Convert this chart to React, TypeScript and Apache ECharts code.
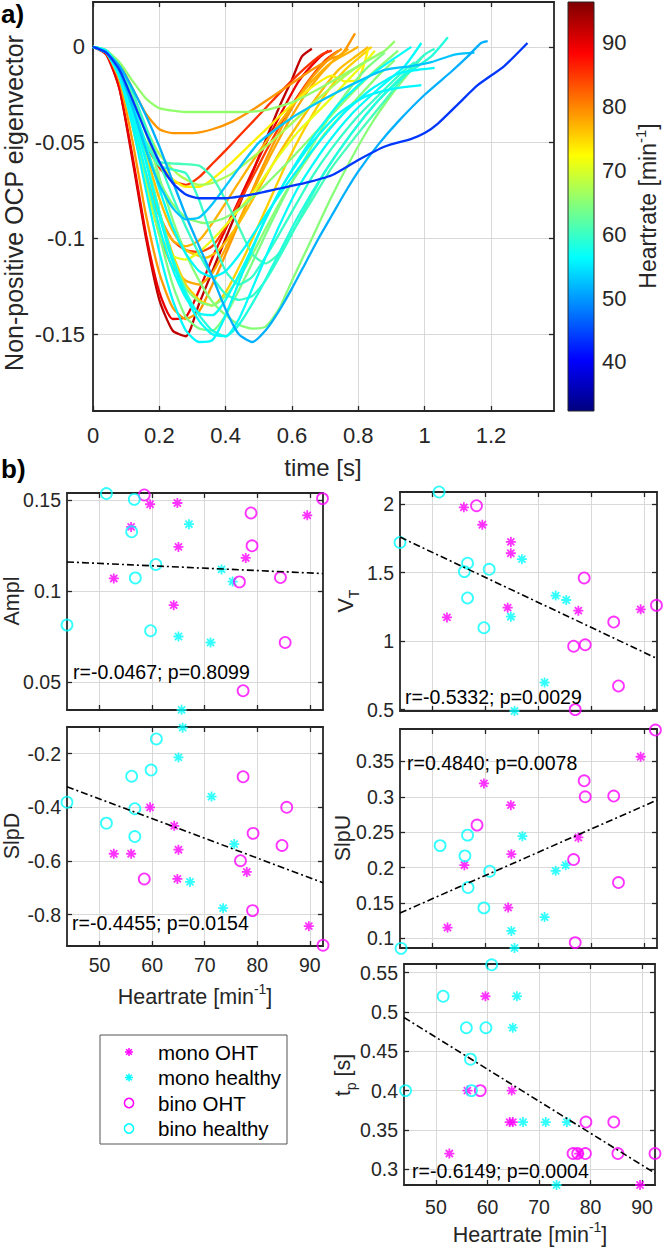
import React, { useEffect, useRef } from 'react';
import * as echarts from 'echarts';

// ---------------- data ----------------
const colorLimits = [32.3, 96.4];
const colorbarTicks = [40, 50, 60, 70, 80, 90];
const timeTicks = [0, 0.2, 0.4, 0.6, 0.8, 1, 1.2];
const eigenTicks = [-0.15, -0.1, -0.05, 0];
const heartrateTicks = [50, 60, 70, 80, 90];
const amplTicks = [0.05, 0.1, 0.15];
const vtTicks = [0.5, 1, 1.5, 2];
const slpdTicks = [-0.8, -0.6, -0.4, -0.2];
const slpuTicks = [0.1, 0.15, 0.2, 0.25, 0.3, 0.35];
const tpTicks = [0.3, 0.35, 0.4, 0.45, 0.5, 0.55];

const curveHeartrates = [92.4, 89.5, 85.3, 84.4, 79.0, 78.8, 77.8, 77.3, 76.6, 75.3, 73.2, 71.1, 67.0, 65.6, 65.0, 65.0, 64.8, 64.1, 60.7, 59.7, 59.6, 58.5, 56.8, 56.6, 56.0, 56.0, 52.7, 51.3, 43.8];

const curveTraces = [
  [[0,0],[0.04,-0.003],[0.08,-0.022],[0.12,-0.06],[0.16,-0.1],[0.2,-0.132],[0.24,-0.148],[0.28,-0.151],[0.32,-0.134],[0.36,-0.117],[0.4,-0.1],[0.44,-0.083],[0.48,-0.066],[0.52,-0.049],[0.56,-0.032],[0.6,-0.017],[0.63,-0.005],[0.66,-0.001]],
  [[0,0],[0.04,-0.004],[0.08,-0.022],[0.12,-0.058],[0.16,-0.098],[0.2,-0.128],[0.24,-0.142],[0.28,-0.141],[0.32,-0.127],[0.36,-0.11],[0.4,-0.095],[0.44,-0.08],[0.5,-0.058],[0.56,-0.037],[0.62,-0.018],[0.68,-0.006],[0.71,-0.002]],
  [[0,0],[0.04,-0.003],[0.08,-0.014],[0.12,-0.033],[0.16,-0.051],[0.2,-0.063],[0.24,-0.07],[0.28,-0.072],[0.32,-0.068],[0.36,-0.061],[0.4,-0.054],[0.46,-0.043],[0.52,-0.032],[0.58,-0.021],[0.64,-0.011],[0.69,-0.004],[0.72,-0.002]],
  [[0,0],[0.04,-0.003],[0.08,-0.016],[0.12,-0.04],[0.16,-0.068],[0.2,-0.088],[0.24,-0.101],[0.28,-0.106],[0.32,-0.107],[0.36,-0.104],[0.4,-0.094],[0.46,-0.075],[0.52,-0.055],[0.58,-0.036],[0.64,-0.02],[0.7,-0.007],[0.74,-0.002]],
  [[0,0],[0.04,-0.002],[0.08,-0.009],[0.12,-0.022],[0.16,-0.035],[0.2,-0.043],[0.24,-0.045],[0.3,-0.045],[0.36,-0.043],[0.42,-0.039],[0.48,-0.033],[0.54,-0.026],[0.6,-0.019],[0.66,-0.012],[0.72,-0.006],[0.75,-0.004],[0.79,0.007]],
  [[0,0],[0.04,-0.003],[0.08,-0.018],[0.12,-0.05],[0.16,-0.088],[0.2,-0.118],[0.24,-0.136],[0.28,-0.142],[0.32,-0.138],[0.36,-0.124],[0.42,-0.1],[0.48,-0.075],[0.54,-0.052],[0.6,-0.032],[0.66,-0.016],[0.72,-0.005],[0.75,-0.001]],
  [[0,0],[0.04,-0.003],[0.08,-0.016],[0.12,-0.042],[0.16,-0.072],[0.2,-0.098],[0.24,-0.115],[0.28,-0.122],[0.32,-0.124],[0.36,-0.118],[0.42,-0.098],[0.48,-0.076],[0.54,-0.055],[0.6,-0.036],[0.66,-0.02],[0.72,-0.008],[0.77,-0.001]],
  [[0,0],[0.04,-0.003],[0.08,-0.015],[0.12,-0.04],[0.16,-0.066],[0.2,-0.088],[0.24,-0.101],[0.28,-0.104],[0.32,-0.101],[0.36,-0.092],[0.42,-0.076],[0.48,-0.06],[0.54,-0.045],[0.6,-0.031],[0.66,-0.018],[0.72,-0.008],[0.78,-0.002],[0.8,0.0]],
  [[0,0],[0.04,-0.002],[0.08,-0.012],[0.12,-0.032],[0.16,-0.056],[0.2,-0.079],[0.24,-0.096],[0.28,-0.106],[0.34,-0.11],[0.38,-0.106],[0.44,-0.092],[0.5,-0.074],[0.56,-0.056],[0.62,-0.04],[0.68,-0.025],[0.74,-0.012],[0.8,-0.004],[0.83,0.0]],
  [[0,0],[0.04,-0.002],[0.08,-0.012],[0.12,-0.032],[0.16,-0.058],[0.2,-0.086],[0.24,-0.108],[0.28,-0.124],[0.32,-0.132],[0.36,-0.135],[0.4,-0.128],[0.46,-0.108],[0.52,-0.085],[0.58,-0.062],[0.64,-0.042],[0.7,-0.025],[0.76,-0.012],[0.82,-0.003],[0.84,0.0]],
  [[0,0],[0.04,-0.002],[0.08,-0.01],[0.12,-0.026],[0.16,-0.045],[0.2,-0.06],[0.24,-0.069],[0.28,-0.073],[0.32,-0.073],[0.36,-0.069],[0.42,-0.06],[0.48,-0.05],[0.54,-0.04],[0.6,-0.03],[0.66,-0.021],[0.72,-0.015],[0.76,-0.018],[0.8,-0.017],[0.83,-0.001]],
  [[0,0],[0.04,-0.003],[0.08,-0.016],[0.12,-0.042],[0.16,-0.072],[0.2,-0.097],[0.24,-0.109],[0.28,-0.111],[0.32,-0.107],[0.38,-0.097],[0.44,-0.085],[0.5,-0.072],[0.56,-0.057],[0.62,-0.044],[0.7,-0.03],[0.76,-0.019],[0.82,-0.008],[0.85,-0.002]],
  [[0,0],[0.04,-0.002],[0.08,-0.01],[0.12,-0.025],[0.16,-0.042],[0.2,-0.056],[0.26,-0.067],[0.32,-0.072],[0.36,-0.071],[0.42,-0.066],[0.5,-0.055],[0.58,-0.043],[0.66,-0.03],[0.74,-0.018],[0.8,-0.01],[0.85,-0.005],[0.87,-0.003]],
  [[0,0],[0.04,-0.002],[0.08,-0.008],[0.12,-0.018],[0.16,-0.027],[0.2,-0.032],[0.28,-0.034],[0.36,-0.034],[0.44,-0.034],[0.52,-0.033],[0.6,-0.029],[0.68,-0.022],[0.76,-0.014],[0.84,-0.006],[0.88,-0.002],[0.91,0.003]],
  [[0,0],[0.04,-0.002],[0.08,-0.011],[0.12,-0.03],[0.16,-0.052],[0.2,-0.07],[0.24,-0.082],[0.28,-0.089],[0.34,-0.092],[0.4,-0.089],[0.46,-0.082],[0.52,-0.072],[0.6,-0.058],[0.68,-0.043],[0.76,-0.028],[0.84,-0.014],[0.9,-0.005],[0.92,-0.002]],
  [[0,0],[0.04,-0.002],[0.08,-0.012],[0.12,-0.032],[0.16,-0.058],[0.2,-0.086],[0.24,-0.11],[0.28,-0.126],[0.32,-0.133],[0.36,-0.135],[0.4,-0.13],[0.46,-0.115],[0.52,-0.095],[0.58,-0.076],[0.64,-0.06],[0.7,-0.045],[0.78,-0.03],[0.86,-0.015],[0.91,-0.007]],
  [[0,0],[0.04,-0.002],[0.08,-0.01],[0.12,-0.025],[0.16,-0.045],[0.2,-0.068],[0.24,-0.09],[0.28,-0.108],[0.32,-0.122],[0.36,-0.133],[0.4,-0.14],[0.44,-0.145],[0.48,-0.147],[0.52,-0.146],[0.56,-0.137],[0.6,-0.122],[0.66,-0.1],[0.72,-0.078],[0.78,-0.058],[0.84,-0.04],[0.9,-0.025],[0.96,-0.012],[0.99,-0.006]],
  [[0,0],[0.04,-0.003],[0.08,-0.015],[0.12,-0.038],[0.16,-0.068],[0.2,-0.098],[0.24,-0.124],[0.28,-0.141],[0.32,-0.147],[0.36,-0.148],[0.4,-0.14],[0.46,-0.12],[0.52,-0.098],[0.58,-0.077],[0.64,-0.058],[0.7,-0.04],[0.76,-0.025],[0.82,-0.012],[0.88,-0.003]],
  [[0,0],[0.04,-0.002],[0.08,-0.012],[0.12,-0.032],[0.16,-0.05],[0.2,-0.06],[0.26,-0.061],[0.32,-0.062],[0.36,-0.068],[0.4,-0.08],[0.44,-0.094],[0.48,-0.108],[0.52,-0.113],[0.56,-0.108],[0.6,-0.097],[0.66,-0.08],[0.72,-0.063],[0.8,-0.045],[0.88,-0.028],[0.94,-0.015],[1.0,-0.004]],
  [[0,0],[0.04,-0.002],[0.08,-0.012],[0.12,-0.03],[0.16,-0.05],[0.2,-0.062],[0.24,-0.064],[0.28,-0.066],[0.32,-0.08],[0.36,-0.1],[0.4,-0.117],[0.44,-0.124],[0.48,-0.12],[0.54,-0.104],[0.6,-0.086],[0.66,-0.068],[0.72,-0.053],[0.8,-0.036],[0.88,-0.022],[0.94,-0.012],[0.97,-0.008]],
  [[0,0],[0.04,-0.002],[0.08,-0.01],[0.12,-0.024],[0.16,-0.042],[0.2,-0.06],[0.24,-0.078],[0.28,-0.094],[0.32,-0.108],[0.36,-0.12],[0.4,-0.129],[0.44,-0.132],[0.48,-0.13],[0.52,-0.122],[0.58,-0.104],[0.64,-0.084],[0.7,-0.065],[0.78,-0.045],[0.86,-0.028],[0.94,-0.014],[1.0,-0.004],[1.03,-0.001]],
  [[0,0],[0.04,-0.003],[0.08,-0.014],[0.12,-0.035],[0.16,-0.06],[0.2,-0.086],[0.24,-0.11],[0.28,-0.128],[0.32,-0.14],[0.36,-0.148],[0.4,-0.151],[0.44,-0.145],[0.5,-0.128],[0.56,-0.108],[0.62,-0.088],[0.7,-0.065],[0.78,-0.045],[0.86,-0.028],[0.94,-0.015],[1.02,-0.005],[1.07,0.005]],
  [[0,0],[0.04,-0.003],[0.08,-0.015],[0.12,-0.038],[0.16,-0.066],[0.2,-0.094],[0.24,-0.116],[0.28,-0.131],[0.32,-0.139],[0.36,-0.14],[0.4,-0.132],[0.46,-0.112],[0.52,-0.09],[0.58,-0.07],[0.66,-0.048],[0.74,-0.03],[0.82,-0.017],[0.9,-0.007],[0.96,0.0]],
  [[0,0],[0.04,-0.003],[0.08,-0.013],[0.12,-0.034],[0.16,-0.06],[0.2,-0.088],[0.24,-0.112],[0.28,-0.13],[0.32,-0.143],[0.36,-0.15],[0.4,-0.151],[0.44,-0.142],[0.5,-0.118],[0.56,-0.094],[0.62,-0.073],[0.7,-0.052],[0.78,-0.035],[0.86,-0.022],[0.94,-0.01],[0.99,0.002]],
  [[0,0],[0.04,-0.003],[0.08,-0.016],[0.12,-0.042],[0.16,-0.075],[0.2,-0.107],[0.24,-0.132],[0.28,-0.148],[0.32,-0.154],[0.36,-0.153],[0.4,-0.14],[0.46,-0.114],[0.52,-0.09],[0.58,-0.07],[0.66,-0.05],[0.74,-0.035],[0.82,-0.026],[0.9,-0.022],[0.99,-0.02]],
  [[0,0],[0.04,-0.002],[0.08,-0.012],[0.12,-0.03],[0.16,-0.052],[0.2,-0.074],[0.24,-0.094],[0.28,-0.108],[0.32,-0.117],[0.36,-0.12],[0.4,-0.117],[0.46,-0.104],[0.52,-0.088],[0.6,-0.068],[0.68,-0.05],[0.76,-0.034],[0.84,-0.022],[0.92,-0.014],[0.98,-0.012],[1.03,-0.011]],
  [[0,0],[0.04,-0.003],[0.08,-0.013],[0.12,-0.032],[0.16,-0.054],[0.2,-0.072],[0.24,-0.084],[0.28,-0.09],[0.32,-0.089],[0.36,-0.082],[0.42,-0.068],[0.5,-0.05],[0.6,-0.037],[0.7,-0.027],[0.8,-0.018],[0.88,-0.012],[0.96,-0.01],[1.02,-0.008],[1.09,-0.004],[1.15,-0.003]],
  [[0,0],[0.04,-0.003],[0.08,-0.01],[0.12,-0.022],[0.16,-0.036],[0.2,-0.052],[0.24,-0.07],[0.28,-0.088],[0.32,-0.104],[0.36,-0.12],[0.4,-0.137],[0.44,-0.15],[0.48,-0.154],[0.52,-0.148],[0.56,-0.138],[0.6,-0.126],[0.64,-0.113],[0.68,-0.1],[0.72,-0.088],[0.76,-0.076],[0.8,-0.065],[0.86,-0.051],[0.92,-0.039],[1.0,-0.025],[1.08,-0.013],[1.13,-0.005],[1.17,0.002],[1.19,0.003]],
  [[0,0],[0.04,-0.003],[0.08,-0.012],[0.12,-0.028],[0.16,-0.045],[0.2,-0.06],[0.24,-0.071],[0.28,-0.077],[0.32,-0.079],[0.4,-0.079],[0.48,-0.077],[0.56,-0.074],[0.64,-0.071],[0.72,-0.067],[0.8,-0.059],[0.88,-0.052],[0.96,-0.048],[1.0,-0.045],[1.04,-0.04],[1.1,-0.03],[1.16,-0.02],[1.24,-0.01],[1.31,0.002]],
];

const amplMonoOHT = [[56.0,0.1354],[59.6,0.1479],[64.8,0.1486],[65.0,0.1244],[52.7,0.107],[64.1,0.0923],[77.8,0.1183],[89.5,0.1418]];
const amplMonoHealthy = [[67.0,0.1369],[73.2,0.112],[75.3,0.1053],[65.0,0.075],[71.1,0.0717],[65.6,0.0346]];
const amplBinoOHT = [[58.5,0.153],[78.8,0.1431],[79.0,0.125],[76.6,0.1051],[84.4,0.1075],[85.3,0.0717],[77.3,0.0451],[92.4,0.151]];
const amplBinoHealthy = [[51.3,0.1538],[56.6,0.1506],[56.1,0.1327],[56.8,0.1073],[60.7,0.1147],[59.7,0.0782],[43.8,0.0813]];
const amplFit = [[43.8,0.1161],[92.5,0.1097]];

const vtMonoOHT = [[55.9,1.976],[59.4,1.849],[64.8,1.724],[64.8,1.641],[52.7,1.173],[64.2,1.244],[77.6,1.222],[89.4,1.232]];
const vtMonoHealthy = [[66.9,1.598],[73.3,1.332],[75.3,1.3],[64.8,1.178],[71.2,0.698],[65.5,0.49]];
const vtBinoOHT = [[58.3,1.988],[78.7,1.461],[76.7,0.963],[78.9,0.973],[84.3,1.139],[85.2,0.673],[77.0,0.5],[92.4,1.261]];
const vtBinoHealthy = [[51.2,2.088],[43.8,1.72],[56.6,1.568],[56.0,1.507],[60.7,1.524],[56.6,1.315],[59.7,1.098]];
const vtFit = [[43.8,1.759],[92.5,0.873]];

const slpdMonoOHT = [[52.7,-0.573],[56.0,-0.573],[59.6,-0.4],[64.2,-0.469],[65.0,-0.558],[64.8,-0.667],[78.0,-0.641],[89.8,-0.843]];
const slpdMonoHealthy = [[65.8,-0.103],[65.0,-0.214],[71.3,-0.36],[75.6,-0.537],[67.2,-0.678],[73.5,-0.776]];
const slpdBinoOHT = [[58.5,-0.667],[77.3,-0.286],[76.8,-0.599],[79.2,-0.497],[79.1,-0.785],[84.7,-0.542],[85.6,-0.4],[92.5,-0.914]];
const slpdBinoHealthy = [[43.8,-0.381],[51.3,-0.459],[56.1,-0.284],[56.7,-0.405],[56.7,-0.509],[59.8,-0.261],[60.8,-0.145]];
const slpdFit = [[43.8,-0.323],[92.5,-0.681]];

const slpuMonoOHT = [[56.0,0.2033],[59.7,0.3189],[64.8,0.2882],[64.9,0.2189],[52.8,0.1151],[64.3,0.1434],[77.6,0.2425],[89.4,0.3566]];
const slpuMonoHealthy = [[67.0,0.2443],[73.3,0.1953],[75.2,0.2033],[64.9,0.1104],[71.2,0.13],[65.5,0.0863]];
const slpuBinoOHT = [[58.4,0.26],[78.7,0.3226],[78.9,0.3],[84.3,0.301],[76.7,0.2113],[85.2,0.1788],[77.0,0.0939],[92.2,0.3943]];
const slpuBinoHealthy = [[44.0,0.0858],[51.4,0.231],[56.1,0.2165],[56.6,0.2458],[56.7,0.1717],[59.7,0.143],[60.8,0.1948]];
const slpuFit = [[43.8,0.1358],[92.5,0.2953]];

const tpMonoOHT = [[59.6,0.52],[56.1,0.4],[64.7,0.4],[64.3,0.36],[64.9,0.36],[52.6,0.32],[77.8,0.32],[89.6,0.28]];
const tpMonoHealthy = [[65.7,0.52],[64.9,0.48],[66.9,0.36],[71.3,0.36],[75.4,0.36],[73.4,0.28]];
const tpBinoOHT = [[58.6,0.4],[79.1,0.36],[84.5,0.36],[76.6,0.32],[77.5,0.32],[79.0,0.32],[85.3,0.32],[92.5,0.32]];
const tpBinoHealthy = [[60.8,0.56],[51.4,0.52],[55.9,0.48],[59.7,0.48],[56.7,0.44],[56.9,0.4],[44.1,0.4]];
const tpFit = [[43.8,0.493],[92.5,0.295]];

const groupNames = ['mono OHT', 'mono healthy', 'bino OHT', 'bino healthy'];
const statTexts = ['r=-0.0467; p=0.8099', 'r=-0.5332; p=0.0029', 'r=-0.4455; p=0.0154', 'r=0.4840; p=0.0078', 'r=-0.6149; p=0.0004'];

// ---------------- styles ----------------
const FONT = '"Liberation Sans", Arial, Helvetica, sans-serif';
const AX = '#262626';
const GRID_C = '#d9d9d9';
const MAGENTA = '#ff00ff';
const CYAN = '#00ffff';
const STAR = 'path://M5,0L5,10M0,5L10,5M1.46,1.46L8.54,8.54M1.46,8.54L8.54,1.46';

function jet(v: number) {
  const t = Math.min(1, Math.max(0, (v - colorLimits[0]) / (colorLimits[1] - colorLimits[0])));
  const c = (x: number) => Math.round(255 * Math.min(1, Math.max(0, x)));
  return `rgb(${c(1.5 - Math.abs(4 * t - 3))},${c(1.5 - Math.abs(4 * t - 2))},${c(1.5 - Math.abs(4 * t - 1))})`;
}

function txt(text: string, x: number, y: number, fs: number, o: any) {
  return {
    type: 'text', x, y, rotation: o.rot || 0, silent: true, z: o.z || 10,
    style: {
      text, fontSize: fs, fontFamily: FONT, fontWeight: o.bold ? 'bold' : 'normal',
      fill: o.color || AX, align: o.align || 'center', verticalAlign: 'middle',
      textAlign: o.align || 'center', textVerticalAlign: 'middle', rich: o.rich,
    },
  };
}

function legendStar(cx: number, cy: number, color: string) {
  const r = 4, d = 2.83;
  const seg = (x1: number, y1: number, x2: number, y2: number) => ({
    type: 'line', silent: true, z: 13, shape: { x1, y1, x2, y2 }, style: { stroke: color, lineWidth: 1.5 },
  });
  return [seg(cx, cy - r, cx, cy + r), seg(cx - r, cy, cx + r, cy), seg(cx - d, cy - d, cx + d, cy + d), seg(cx - d, cy + d, cx + d, cy - d)];
}

function buildOption() {
  const grids: any[] = [];
  const xAxes: any[] = [];
  const yAxes: any[] = [];
  const series: any[] = [];
  const graphics: any[] = [];

  const axLine = { show: true, onZero: false, lineStyle: { color: AX, width: 1.8 } };
  const tick = (vals: number[]) => ({ show: true, inside: true, length: 5, customValues: vals, lineStyle: { color: AX, width: 1.3 } });
  const label = (show: boolean, vals: number[], margin: number, fs: number) => ({ show, customValues: vals, margin, fontSize: fs, color: AX, fontFamily: FONT });
  const split = { show: true, lineStyle: { color: GRID_C, width: 1 } };

  function addPanel(rect: any, xr: number[], yr: number[], xt: number[], yt: number[], o: any) {
    const gi = grids.length;
    grids.push({ ...rect, containLabel: false, outerBoundsMode: 'none' });
    xAxes.push({ type: 'value', gridIndex: gi, min: xr[0], max: xr[1], position: 'bottom', axisLine: axLine, axisTick: tick(xt), axisLabel: label(o.xLabels, xt, o.xMargin, o.fs), splitLine: split });
    xAxes.push({ type: 'value', gridIndex: gi, min: xr[0], max: xr[1], position: 'top', axisLine: axLine, axisTick: tick(xt), axisLabel: { show: false }, splitLine: { show: false } });
    yAxes.push({ type: 'value', gridIndex: gi, min: yr[0], max: yr[1], position: 'left', axisLine: axLine, axisTick: tick(yt), axisLabel: label(true, yt, o.yMargin, o.fs), splitLine: split });
    yAxes.push({ type: 'value', gridIndex: gi, min: yr[0], max: yr[1], position: 'right', axisLine: axLine, axisTick: tick(yt), axisLabel: { show: false }, splitLine: { show: false } });
    return 2 * gi;
  }

  // ---- panel a ----
  const ia = addPanel({ left: 93, top: 2, width: 461, height: 409 }, [0, 1.39], [-0.19, 0.0234], timeTicks, eigenTicks, { xLabels: true, xMargin: 13, yMargin: 8, fs: 22 });
  curveTraces.forEach((tr, i) => {
    series.push({
      type: 'line', xAxisIndex: ia, yAxisIndex: ia, data: tr, symbol: 'none', smooth: 0.2,
      lineStyle: { color: jet(curveHeartrates[i]), width: 2.3 }, itemStyle: { color: jet(curveHeartrates[i]) }, silent: true, z: 2,
    });
  });

  // ---- panel b ----
  const xr = [43.8, 92.5];
  const panels = [
    { rect: { left: 67, top: 493, width: 256, height: 217 }, yr: [0.0345, 0.1541], yt: amplTicks, xl: false, xm: 9, groups: [amplMonoOHT, amplMonoHealthy, amplBinoOHT, amplBinoHealthy], fit: amplFit, stat: statTexts[0], sx: 73, sy: 672 },
    { rect: { left: 400, top: 492, width: 257, height: 219 }, yr: [0.49, 2.088], yt: vtTicks, xl: false, xm: 9, groups: [vtMonoOHT, vtMonoHealthy, vtBinoOHT, vtBinoHealthy], fit: vtFit, stat: statTexts[1], sx: 405, sy: 697 },
    { rect: { left: 67, top: 727, width: 256, height: 219 }, yr: [-0.917, -0.1005], yt: slpdTicks, xl: true, xm: 9, groups: [slpdMonoOHT, slpdMonoHealthy, slpdBinoOHT, slpdBinoHealthy], fit: slpdFit, stat: statTexts[2], sx: 72, sy: 923 },
    { rect: { left: 400, top: 729, width: 257, height: 219 }, yr: [0.0863, 0.3958], yt: slpuTicks, xl: false, xm: 9, groups: [slpuMonoOHT, slpuMonoHealthy, slpuBinoOHT, slpuBinoHealthy], fit: slpuFit, stat: statTexts[3], sx: 407, sy: 763 },
    { rect: { left: 404, top: 964, width: 251, height: 221 }, yr: [0.28, 0.561], yt: tpTicks, xl: true, xm: 12, groups: [tpMonoOHT, tpMonoHealthy, tpBinoOHT, tpBinoHealthy], fit: tpFit, stat: statTexts[4], sx: 412, sy: 1171 },
  ];
  const groupStyle = [
    { symbol: STAR, size: 10, color: MAGENTA },
    { symbol: STAR, size: 10, color: CYAN },
    { symbol: 'circle', size: 11, color: MAGENTA },
    { symbol: 'circle', size: 11, color: CYAN },
  ];
  panels.forEach((p) => {
    const ai = addPanel(p.rect, xr, p.yr, heartrateTicks, p.yt, { xLabels: p.xl, xMargin: p.xm, yMargin: 6, fs: 19.5 });
    p.groups.forEach((g, k) => {
      const st = groupStyle[k];
      series.push({
        type: 'scatter', name: groupNames[k], xAxisIndex: ai, yAxisIndex: ai, data: g, clip: false,
        symbol: st.symbol, symbolSize: st.size, silent: true, z: 3,
        itemStyle: { color: 'rgba(0,0,0,0)', borderColor: st.color, borderWidth: 1.8 },
      });
    });
    series.push({
      type: 'line', xAxisIndex: ai, yAxisIndex: ai, data: p.fit, symbol: 'none', silent: true, z: 4,
      lineStyle: { color: '#000', width: 1.6, type: [7, 3, 2, 3] },
    });
    graphics.push(txt(p.stat, p.sx, p.sy, 19.5, { align: 'left', color: '#000' }));
  });

  // ---- colorbar ----
  const cgi = grids.length;
  grids.push({ left: 568, top: 2, width: 26, height: 409, containLabel: false, outerBoundsMode: 'none' });
  xAxes.push({ type: 'value', gridIndex: cgi, min: 0, max: 1, show: false });
  yAxes.push({
    type: 'value', gridIndex: cgi, min: colorLimits[0], max: colorLimits[1], position: 'right',
    axisLine: { show: false }, axisTick: { show: false },
    axisLabel: { show: true, customValues: colorbarTicks, margin: 8, fontSize: 22, color: AX, fontFamily: FONT }, splitLine: { show: false },
  });
  series.push({ type: 'scatter', xAxisIndex: xAxes.length - 1, yAxisIndex: yAxes.length - 1, data: [], silent: true });
  const stops: any[] = [];
  for (let i = 0; i <= 32; i++) {
    const off = i / 32;
    stops.push({ offset: off, color: jet(colorLimits[0] + off * (colorLimits[1] - colorLimits[0])) });
  }
  graphics.push({
    type: 'rect', silent: true, z: -5,
    shape: { x: 568, y: 2, width: 26, height: 409 },
    style: { fill: new echarts.graphic.LinearGradient(0, 1, 0, 0, stops), stroke: AX, lineWidth: 1 },
  });

  // ---- legend (drawn) ----
  graphics.push({ type: 'rect', silent: true, z: 11, shape: { x: 100, y: 1035, width: 187, height: 109 }, style: { fill: '#ffffff', stroke: '#555555', lineWidth: 1 } });
  const legendRows = [1052, 1077.5, 1103, 1128.5];
  groupNames.forEach((name, k) => {
    const color = k % 2 === 0 ? MAGENTA : CYAN;
    const y = legendRows[k];
    if (k < 2) legendStar(129, y, color).forEach((s) => graphics.push(s));
    else graphics.push({ type: 'circle', silent: true, z: 13, shape: { cx: 129, cy: y, r: 4.6 }, style: { fill: 'none', stroke: color, lineWidth: 1.5 } });
    graphics.push(txt(name, 158, y, 20.5, { align: 'left', color: '#000', z: 13 }));
  });

  // ---- titles ----
  const sup = (fs: number) => ({
    a: { fontSize: fs, fontFamily: FONT, fill: AX, color: AX, lineHeight: fs + 8 },
    s: { fontSize: Math.round(fs * 0.66), fontFamily: FONT, fill: AX, color: AX, verticalAlign: 'top', lineHeight: Math.round(fs * 0.66) },
  });
  const sub = (fs: number) => ({
    a: { fontSize: fs, fontFamily: FONT, fill: AX, color: AX, lineHeight: fs + 8 },
    b: { fontSize: Math.round(fs * 0.66), fontFamily: FONT, fill: AX, color: AX, verticalAlign: 'bottom', lineHeight: Math.round(fs * 0.66) },
  });
  const R = Math.PI / 2;
  graphics.push(txt('a)', 1, 14, 26, { align: 'left', bold: true, color: '#000' }));
  graphics.push(txt('b)', 1, 469, 26, { align: 'left', bold: true, color: '#000' }));
  graphics.push(txt('Non-positive OCP eigenvector', 14, 203, 25, { rot: R }));
  graphics.push(txt('time [s]', 323, 467, 24, {}));
  graphics.push(txt('{a|Heartrate [min}{s|-1}{a|]}', 648, 206, 23, { rot: R, rich: sup(23) }));
  graphics.push(txt('Ampl', 12, 601, 21.5, { rot: R }));
  graphics.push(txt('{a|V}{b|T}', 346, 601, 21.5, { rot: R, rich: sub(21.5) }));
  graphics.push(txt('SlpD', 12, 836, 21.5, { rot: R }));
  graphics.push(txt('SlpU', 343, 838, 21.5, { rot: R }));
  graphics.push(txt('{a|t}{b|p}{a| [s]}', 343, 1075, 21.5, { rot: R, rich: sub(21.5) }));
  graphics.push(txt('{a|Heartrate [min}{s|-1}{a|]}', 195, 997, 21.5, { rich: sup(21.5) }));
  graphics.push(txt('{a|Heartrate [min}{s|-1}{a|]}', 530, 1235, 21.5, { rich: sup(21.5) }));

  return {
    animation: false,
    backgroundColor: '#ffffff',
    textStyle: { fontFamily: FONT },
    grid: grids,
    xAxis: xAxes,
    yAxis: yAxes,
    series,
    graphic: { elements: graphics },
  };
}

export default function App() {
  const ref = useRef<HTMLDivElement>(null);
  useEffect(() => {
    document.body.style.margin = '0';
    const chart = echarts.init(ref.current as HTMLDivElement, null, { renderer: 'svg', width: 664, height: 1249 });
    chart.setOption(buildOption() as any);
    return () => chart.dispose();
  }, []);
  return <div ref={ref} style={{ width: 664, height: 1249, background: '#ffffff' }} />;
}
